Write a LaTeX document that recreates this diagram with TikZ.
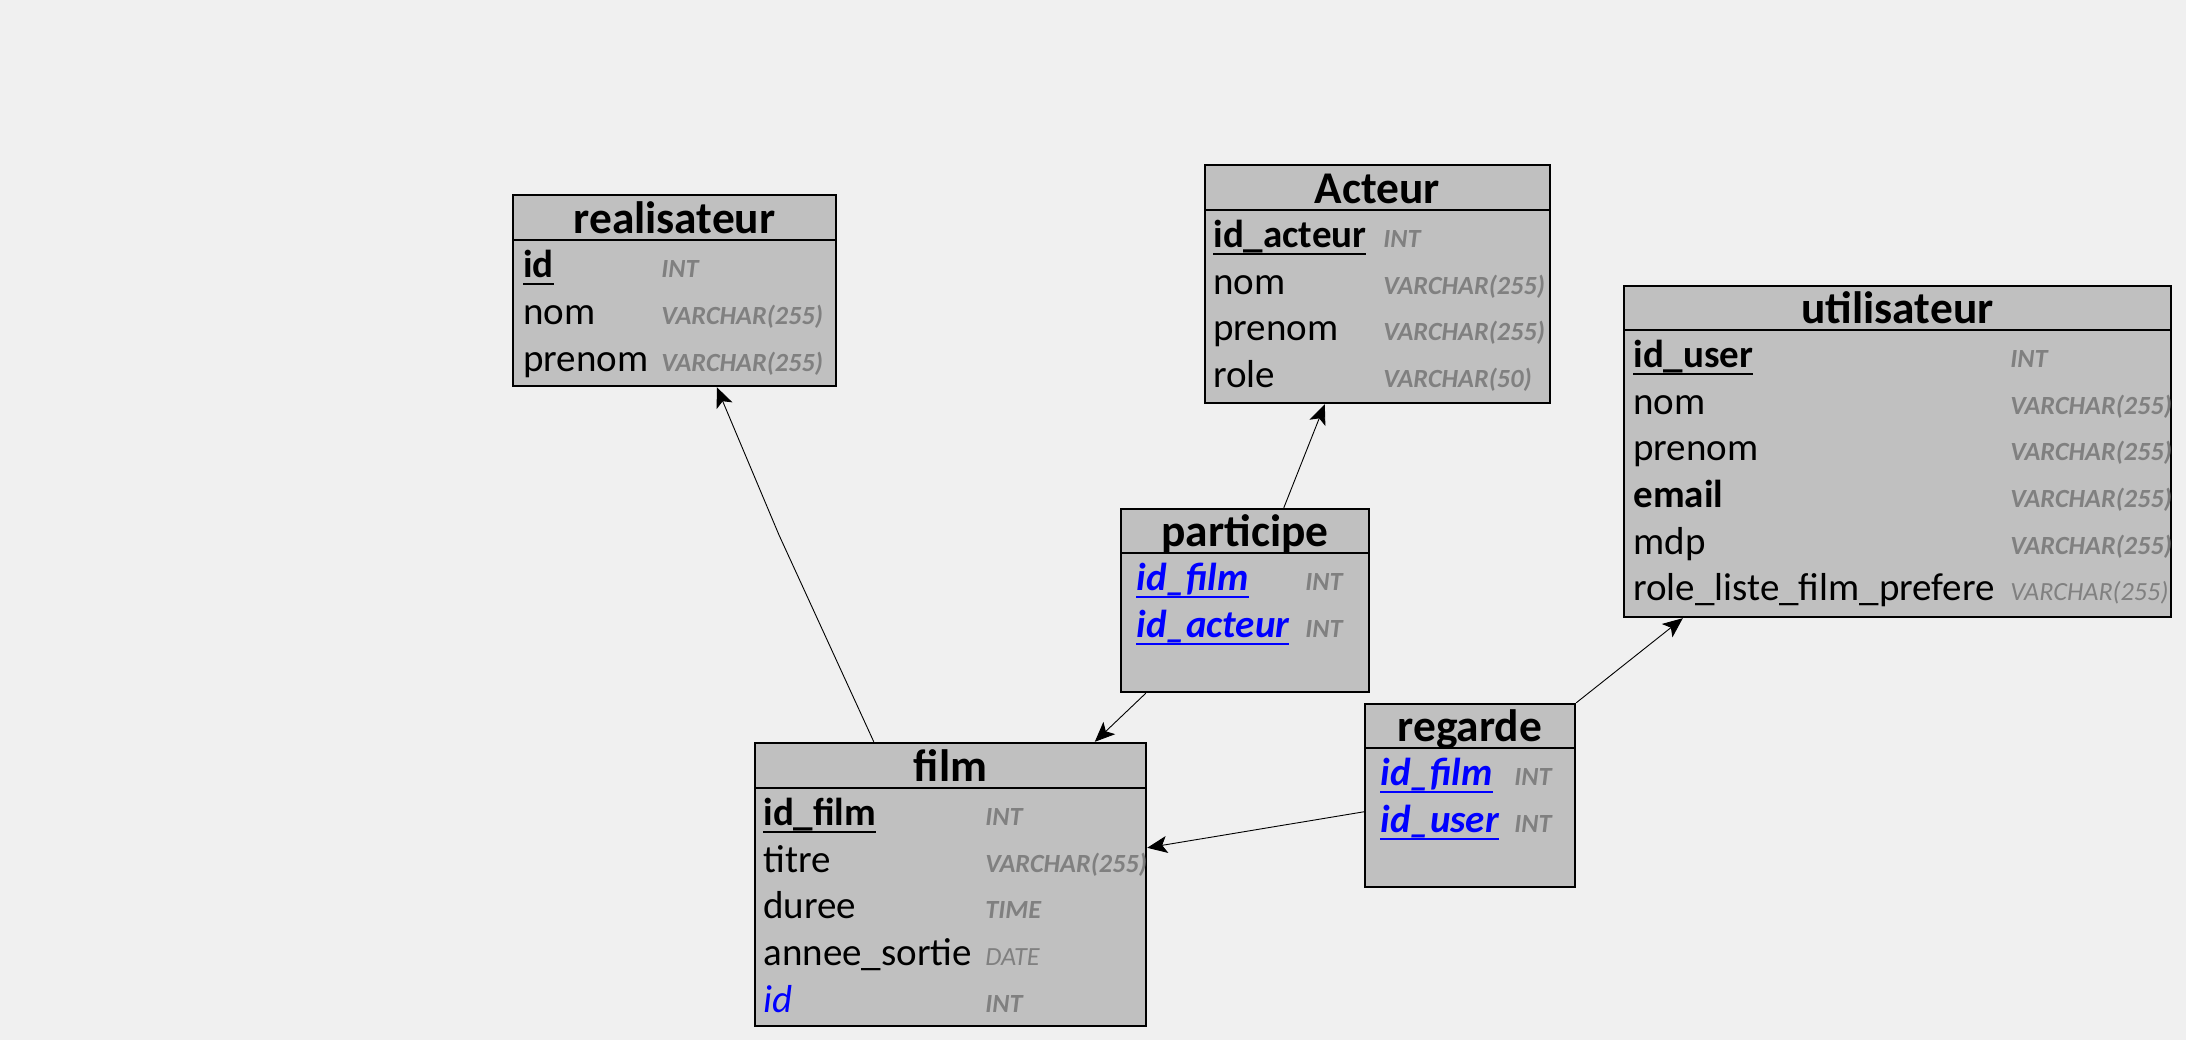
\documentclass[tikz,border=0pt]{standalone}
\usepackage{fontspec}
\setmainfont{Carlito}
\usetikzlibrary{arrows.meta,calc}
\definecolor{bgc}{HTML}{F0F0F0}
\definecolor{boxc}{HTML}{C0C0C0}
\definecolor{typec}{HTML}{808080}
\definecolor{fkc}{HTML}{0000FF}
\newcommand{\keyu}[1]{\setbox0=\hbox{#1}\rlap{\rule[-4pt]{\wd0}{1.2pt}}\box0}
\tikzset{
  tbl/.style={draw=black, line width=1.2pt, fill=boxc, rectangle, inner sep=0pt},
  sepline/.style={line width=1.2pt},
  ttl/.style={anchor=base, inner sep=0pt, font=\fontsize{22.7}{24}\selectfont\bfseries},
  nm/.style={anchor=base west, inner sep=0pt, font=\fontsize{19.5}{21}\selectfont},
  ty/.style={anchor=base west, inner sep=0pt, text=typec, font=\fontsize{13.1}{15}\selectfont\bfseries\itshape},
  tyr/.style={anchor=base west, inner sep=0pt, text=typec, font=\fontsize{13.1}{15}\selectfont\itshape},
  fk/.style={line width=0.45pt, -{Stealth[length=10pt,width=8.5pt,inset=2.4pt]}}
}
\begin{document}
\begin{tikzpicture}[x=0.5pt,y=-0.5pt]
\fill[bgc] (0,0) rectangle (2186,1040);
\useasboundingbox (0,0) rectangle (2186,1040);

% realisateur
\node[tbl, minimum width=161.5pt, minimum height=95.5pt] (realisateur) at (674.5,290.5) {};
\draw[sepline] (513,240) -- (836,240);
\node[ttl] (t-real) at (674.5,233.5) {realisateur};
\node[nm] (r1) at (523,277) {\bfseries\keyu{id}};
\node[nm] (r2) at (523,324) {nom};
\node[nm] (r3) at (523,371) {prenom};
\node[ty] (rt1) at (661,277) {INT};
\node[ty] (rt2) at (661,324) {VARCHAR(255)};
\node[ty] (rt3) at (661,371) {VARCHAR(255)};

% Acteur
\node[tbl, minimum width=172.5pt, minimum height=119pt] (acteur) at (1377.5,284) {};
\draw[sepline] (1205,210) -- (1550,210);
\node[ttl] (t-act) at (1377.5,203.5) {Acteur};
\node[nm] (a1) at (1213,247) {\bfseries\keyu{id\_acteur}};
\node[nm] (a2) at (1213,294) {nom};
\node[nm] (a3) at (1213,340) {prenom};
\node[nm] (a4) at (1213,387) {role};
\node[ty] (at1) at (1383,247) {INT};
\node[ty] (at2) at (1383,294) {VARCHAR(255)};
\node[ty] (at3) at (1383,340) {VARCHAR(255)};
\node[ty] (at4) at (1383,387) {VARCHAR(50)};

% utilisateur
\node[tbl, minimum width=273.5pt, minimum height=165.5pt] (utilisateur) at (1897.5,451.5) {};
\draw[sepline] (1624,330) -- (2171,330);
\node[ttl] (t-util) at (1897.5,323.5) {utilisateur};
\node[nm] (u1) at (1633,367) {\bfseries\keyu{id\_user}};
\node[nm] (u2) at (1633,414) {nom};
\node[nm] (u3) at (1633,460) {prenom};
\node[nm] (u4) at (1633,507) {\bfseries email};
\node[nm] (u5) at (1633,554) {mdp};
\node[nm] (u6) at (1633,600) {role\_liste\_film\_prefere};
\node[ty] (ut1) at (2010,367) {INT};
\node[ty] (ut2) at (2010,414) {VARCHAR(255)};
\node[ty] (ut3) at (2010,460) {VARCHAR(255)};
\node[ty] (ut4) at (2010,507) {VARCHAR(255)};
\node[ty] (ut5) at (2010,554) {VARCHAR(255)};
\node[tyr] (ut6) at (2010,600) {VARCHAR(255)};

% participe
\node[tbl, minimum width=124pt, minimum height=91.5pt] (participe) at (1245,600.5) {};
\draw[sepline] (1121,553) -- (1369,553);
\node[ttl] (t-part) at (1245,546.5) {participe};
\node[nm, text=fkc] (p1) at (1136,590) {\bfseries\itshape\keyu{id\_film}};
\node[nm, text=fkc] (p2) at (1136,637) {\bfseries\itshape\keyu{id\_acteur}};
\node[ty] (pt1) at (1305,590) {INT};
\node[ty] (pt2) at (1305,637) {INT};

% regarde
\node[tbl, minimum width=105pt, minimum height=91.5pt] (regarde) at (1470,795.5) {};
\draw[sepline] (1365,748) -- (1575,748);
\node[ttl] (t-reg) at (1470,741.5) {regarde};
\node[nm, text=fkc] (g1) at (1380,785) {\bfseries\itshape\keyu{id\_film}};
\node[nm, text=fkc] (g2) at (1380,832) {\bfseries\itshape\keyu{id\_user}};
\node[ty] (gt1) at (1514,785) {INT};
\node[ty] (gt2) at (1514,832) {INT};

% film
\node[tbl, minimum width=195.5pt, minimum height=141.5pt] (film) at (950.5,884.5) {};
\draw[sepline] (755,788) -- (1146,788);
\node[ttl] (t-film) at (950.5,781.5) {film};
\node[nm] (f1) at (763,825) {\bfseries\keyu{id\_film}};
\node[nm] (f2) at (763,872) {titre};
\node[nm] (f3) at (763,918) {duree};
\node[nm] (f4) at (763,965) {annee\_sortie};
\node[nm, text=fkc] (f5) at (763,1012) {\itshape id};
\node[ty] (ft1) at (985,825) {INT};
\node[ty] (ft2) at (985,872) {VARCHAR(255)};
\node[ty] (ft3) at (985,918) {TIME};
\node[tyr] (ft4) at (985,965) {DATE};
\node[ty] (ft5) at (985,1012) {INT};

% connectors
\coordinate (bend1) at (779,535);
\draw[fk] ($(film.north west)+(120,0)$) -- (bend1) -- ($(realisateur.south west)+(205,0)$);
\draw[fk] ($(participe.north west)+(164,0)$) -- ($(acteur.south west)+(121,0)$);
\draw[fk] ($(participe.south west)+(26,0)$) -- ($(film.north west)+(341,0)$);
\draw[fk] ($(regarde.north west)+(0,109)$) -- ($(film.north east)+(0,106)$);
\draw[fk] (regarde.north east) -- ($(utilisateur.south west)+(60,0)$);
\end{tikzpicture}
\end{document}
